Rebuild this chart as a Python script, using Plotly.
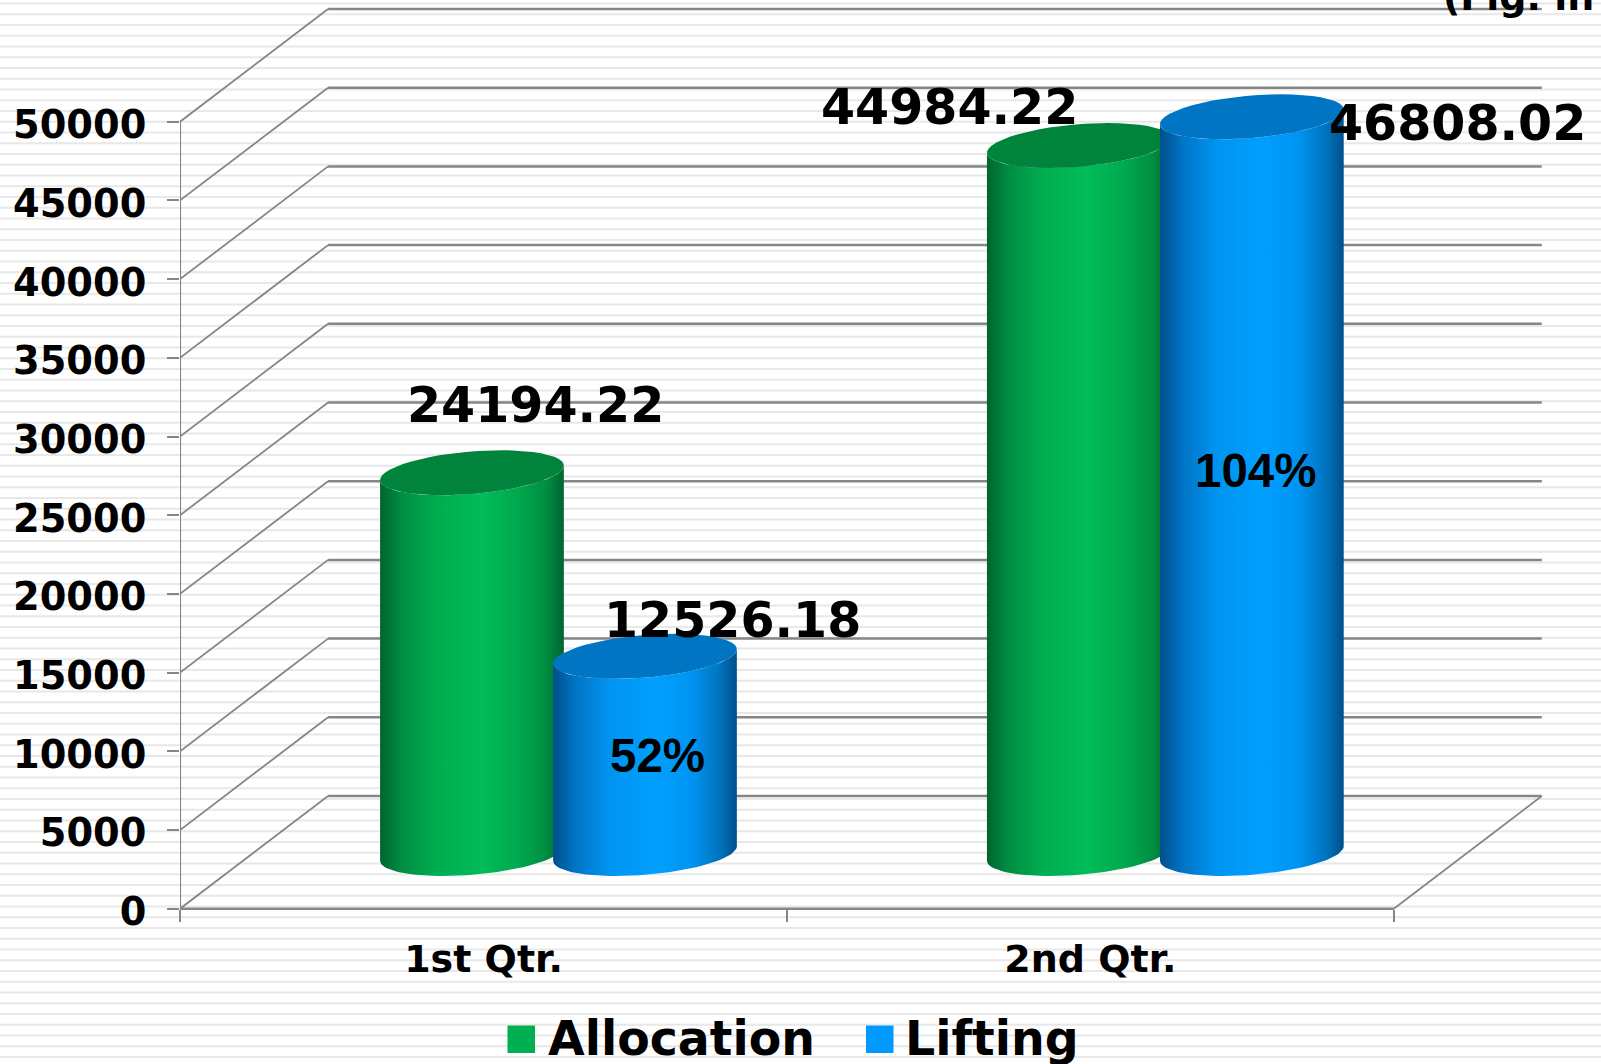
import math
import plotly.graph_objects as go

categories = ["1st Qtr.", "2nd Qtr."]
allocation = [24194.22, 44984.22]
lifting = [12526.18, 46808.02]
lifting_share = ["52%", "104%"]
y_ticks = [0, 5000, 10000, 15000, 20000, 25000, 30000, 35000, 40000, 45000, 50000]

W, H = 1601, 1064
PX_X = 606.85            # pixels per category
PX_Y = 787 / 50000       # pixels per unit
X0_PX, Y0_PX = 483.5, 908.7  # pixel of category 0 centre / of value 0
DEPTH_X = 148 / PX_X
DEPTH_Y = 112.7 / PX_Y
R_X = 87 / PX_X
SHEAR_X = 29.5 / PX_X
R_Y = 22.5 / PX_Y
BASE = (Y0_PX - 853.5) / PX_Y
OFF_A, OFF_L = -0.0190, 0.2661
T0 = math.atan2(SHEAR_X, R_X)
GRID = "#868686"
FONT = "DejaVu Sans"


def ellipse(cx, cy, a, b):
    n = 48
    xs, ys = [], []
    for i in range(n + 1):
        t = a + (b - a) * i / n
        xs.append(cx + R_X * math.cos(t) + SHEAR_X * math.sin(t))
        ys.append(cy + R_Y * math.sin(t))
    return xs, ys


def cylinder(fig, cx, value, scale, top, name):
    top_y = BASE + value
    bx, by = ellipse(cx, BASE, T0 + math.pi, T0 + 2 * math.pi)
    tx, ty = ellipse(cx, top_y, T0 + 2 * math.pi, T0 + math.pi)
    fig.add_trace(go.Scatter(
        x=bx + tx, y=by + ty, mode="lines", fill="toself", line=dict(width=0),
        fillgradient=dict(type="horizontal", colorscale=scale),
        name=name, legendgroup=name, showlegend=False, hoverinfo="name+text", text=f"{value}",
    ))
    ex, ey = ellipse(cx, top_y, 0, 2 * math.pi)
    fig.add_trace(go.Scatter(
        x=ex, y=ey, mode="lines", fill="toself", fillcolor=top, line=dict(width=0),
        name=name, showlegend=False, hoverinfo="skip",
    ))


GREEN_SCALE = [[0, "#00642F"], [0.12, "#008E42"], [0.3, "#00AC50"], [0.55, "#00BC59"],
               [0.75, "#00A94E"], [0.9, "#008F42"], [1, "#006530"]]
BLUE_SCALE = [[0, "#004F8C"], [0.12, "#0074C4"], [0.3, "#0093F0"], [0.55, "#00A0FF"],
              [0.75, "#0094F2"], [0.9, "#0075C0"], [1, "#004F8C"]]

fig = go.Figure()

# back wall and depth lines
x_left, x_right = -0.5, 1.5
hx, hy, dx, dy = [], [], [], []
for v in y_ticks:
    hx += [x_left + DEPTH_X, x_right + DEPTH_X, None]
    hy += [v + DEPTH_Y, v + DEPTH_Y, None]
    dx += [x_left, x_left + DEPTH_X, None]
    dy += [v, v + DEPTH_Y, None]
dx += [x_right, x_right + DEPTH_X, None]
dy += [0, DEPTH_Y, None]
fig.add_trace(go.Scatter(x=hx, y=hy, mode="lines", line=dict(color=GRID, width=2.5), showlegend=False, hoverinfo="skip"))
fig.add_trace(go.Scatter(x=dx, y=dy, mode="lines", line=dict(color=GRID, width=1.8), showlegend=False, hoverinfo="skip"))
fig.add_trace(go.Scatter(x=[x_left, x_left], y=[0, y_ticks[-1]], mode="lines", line=dict(color=GRID, width=2), showlegend=False, hoverinfo="skip"))
fig.add_trace(go.Scatter(x=[x_left, x_right], y=[0, 0], mode="lines", line=dict(color=GRID, width=2.5), showlegend=False, hoverinfo="skip"))

for i in range(len(categories)):
    cylinder(fig, i + OFF_A, allocation[i], GREEN_SCALE, "#00843C", "Allocation")
    cylinder(fig, i + OFF_L, lifting[i], BLUE_SCALE, "#0075C4", "Lifting")

# stripes of the slide background
stripe_path = " ".join(f"M0,{1 - (3.5 + 10.75 * k) / H:.5f} L1,{1 - (3.5 + 10.75 * k) / H:.5f}" for k in range(100))
shapes = [dict(type="path", xref="paper", yref="paper", path=stripe_path, layer="below",
               line=dict(color="#E8E8E8", width=2.2))]
for x0, col in ((507.5, "#00B050"), (866, "#0099FF")):
    shapes.append(dict(type="rect", xref="paper", yref="paper", x0=x0 / W, x1=(x0 + 27.5) / W,
                       y0=1 - 1053 / H, y1=1 - 1025.5 / H, fillcolor=col, line=dict(width=0)))

bold = dict(family=FONT, weight=700, color="black")
ann = []


def value_label(text, i, off, val, xs, ys, size, family=FONT):
    ann.append(dict(x=i + off, y=BASE + val, text=text, showarrow=False, xshift=xs, yshift=ys,
                    font=dict(family=family, size=size, weight=700, color="black")))


value_label(f"{allocation[0]:.2f}", 0, OFF_A, allocation[0], 64, 67, 49)
value_label(f"{lifting[0]:.2f}", 0, OFF_L, lifting[0], 88, 36, 49)
value_label(f"{allocation[1]:.2f}", 1, OFF_A, allocation[1], -129, 38, 49)
value_label(f"{lifting[1]:.2f}", 1, OFF_L, lifting[1], 206, -7, 49)
value_label(lifting_share[0], 0, OFF_L, lifting[0] / 2, 13, -1, 47.5, "Liberation Sans")
value_label(lifting_share[1], 1, OFF_L, lifting[1] / 2, 4, 15, 47.5, "Liberation Sans")

for x, text in ((546, "Allocation"), (903, "Lifting")):
    ann.append(dict(xref="paper", yref="paper", x=x / W, y=1 - 1038 / H, xanchor="left", yanchor="middle",
                    text=text, showarrow=False, font=dict(size=47.4, **bold)))
ann.append(dict(xref="paper", yref="paper", x=1441 / W, y=1 + 3 / H, xanchor="left", yanchor="middle",
                text="(Fig. in MT)", showarrow=False, font=dict(size=38, **bold)))

fig.update_layout(
    width=W, height=H, margin=dict(l=0, r=0, t=0, b=0, autoexpand=False),
    paper_bgcolor="white", plot_bgcolor="rgba(0,0,0,0)", showlegend=False,
    shapes=shapes, annotations=ann,
    xaxis=dict(
        domain=[180 / W, 1], range=[(180 - X0_PX) / PX_X, (W - X0_PX) / PX_X],
        anchor="free", position=1 - Y0_PX / H,
        tickmode="array", tickvals=list(range(len(categories))), ticktext=categories,
        ticks="", showgrid=False, zeroline=False, showline=False,
        ticklabelstandoff=24, tickfont=dict(size=38, **bold),
        minor=dict(tickmode="array", tickvals=[x_left, 0.5, x_right], ticks="outside", ticklen=12,
                   tickcolor=GRID, tickwidth=1.6, showgrid=False),
    ),
    yaxis=dict(
        domain=[0, 1], range=[(Y0_PX - H) / PX_Y, Y0_PX / PX_Y],
        tickmode="array", tickvals=y_ticks, ticktext=[str(v) for v in y_ticks],
        ticks="outside", ticklen=12, tickcolor=GRID, tickwidth=1.6,
        showgrid=False, zeroline=False, showline=False,
        ticklabelstandoff=13, ticklabelshift=3, tickfont=dict(size=38.3, **bold),
    ),
)

fig.write_html("out.html", config={"displayModeBar": False},
               post_script="document.body.style.margin='0';document.body.style.overflow='hidden';")
